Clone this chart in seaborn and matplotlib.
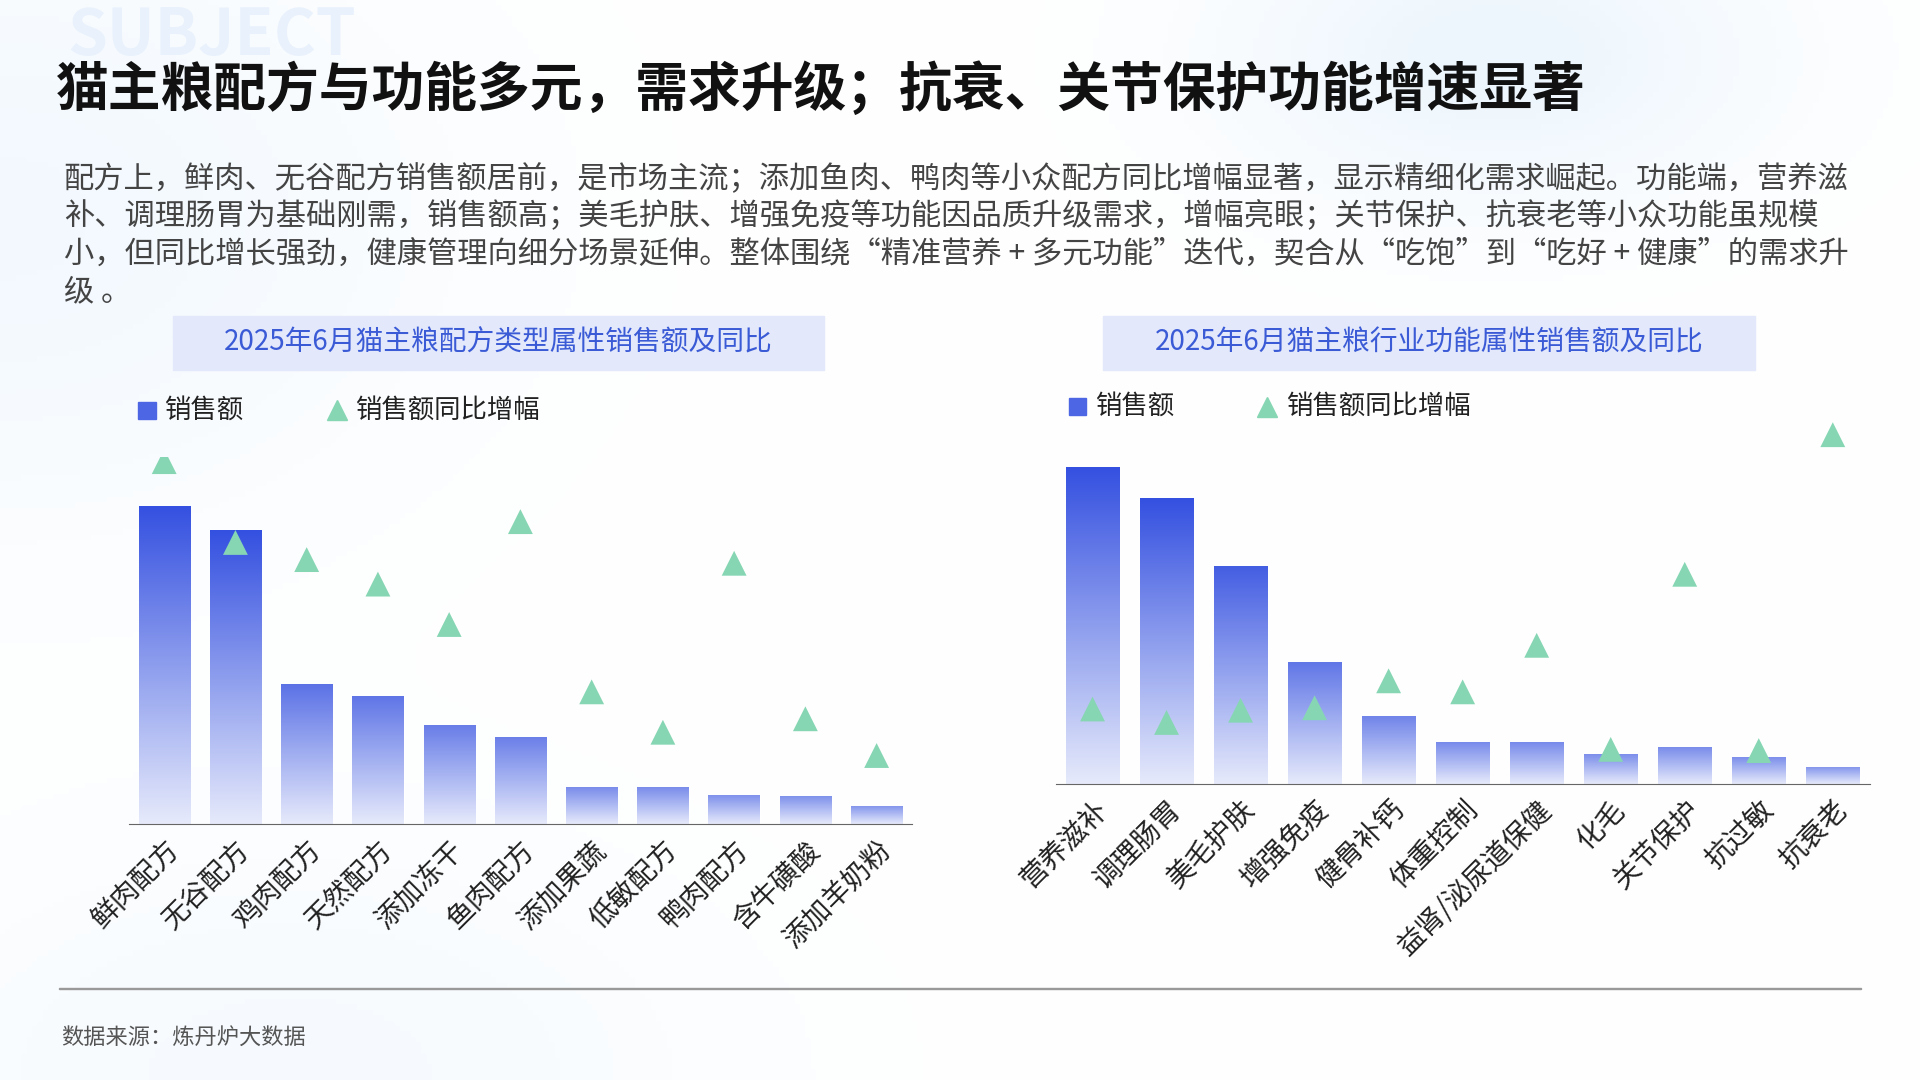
import numpy as np
import pandas as pd
import matplotlib
matplotlib.use("Agg")
import matplotlib.pyplot as plt
from matplotlib.patches import Rectangle
import seaborn as sb

sb.set_style("white")
plt.rcParams['font.family'] = ['Noto Sans CJK SC', 'DejaVu Sans']

# data (relative units)
left_cats = ["鲜肉配方", "无谷配方", "鸡肉配方", "天然配方", "添加冻干", "鱼肉配方",
             "添加果蔬", "低敏配方", "鸭肉配方", "含牛磺酸", "添加羊奶粉"]
left_sales = [260, 240, 114, 105, 81, 71, 30, 30, 24, 23, 15]
left_growth = [296, 230, 216, 196, 163, 247, 108, 75, 213, 86, 56]

right_cats = ["营养滋补", "调理肠胃", "美毛护肤", "增强免疫", "健骨补钙", "体重控制",
              "益肾/泌尿道保健", "化毛", "关节保护", "抗过敏", "抗衰老"]
right_sales = [259, 233, 178, 99, 55, 34, 34, 24, 30, 22, 14]
right_growth = [61, 50, 60, 62, 84, 75, 113, 28, 171, 27, 285]

W, H = 1568, 882
fig = plt.figure(figsize=(19.2, 10.8), dpi=100)

# background
bg = fig.add_axes([0, 0, 1, 1])
yy, xx = np.mgrid[0:1:200j, 0:1:360j]
glow = np.exp(-((xx - 0.78) ** 2 / 0.02 + (yy - 0.05) ** 2 / 0.02)) * 0.5 \
    + np.exp(-((xx - 0.0) ** 2 / 0.05 + (yy - 0.2) ** 2 / 0.08)) * 0.35 \
    + np.exp(-((xx - 0.15) ** 2 / 0.05 + (yy - 1.0) ** 2 / 0.05)) * 0.25
glow = np.clip(glow, 0, 1)
img = np.ones((200, 360, 3))
tint = np.array([0.86, 0.93, 0.99])
img = img * (1 - glow[..., None]) + tint * glow[..., None]
bg.imshow(img, aspect="auto", extent=[0, 1, 1, 0])
bg.set_xlim(0, 1); bg.set_ylim(1, 0); bg.axis("off")

def fx(px): return px / W
def fy(py): return 1 - py / H

fig.text(fx(55), fy(30), "SUBJECT", fontsize=46, fontweight="bold", color="#e8f1fc", va="center", zorder=0)
fig.text(fx(46), fy(73), "猫主粮配方与功能多元，需求升级；抗衰、关节保护功能增速显著",
         fontsize=38, fontweight="bold", color="#111111", va="center")
body = ("配方上，鲜肉、无谷配方销售额居前，是市场主流；添加鱼肉、鸭肉等小众配方同比增幅显著，显示精细化需求崛起。功能端，营养滋\n"
        "补、调理肠胃为基础刚需，销售额高；美毛护肤、增强免疫等功能因品质升级需求，增幅亮眼；关节保护、抗衰老等小众功能虽规模\n"
        "小，但同比增长强劲，健康管理向细分场景延伸。整体围绕“精准营养 + 多元功能”迭代，契合从“吃饱”到“吃好 + 健康”的需求升\n"
        "级 。")
fig.text(fx(52), fy(134), body, fontsize=21.8, color="#444444", va="top", linespacing=1.27)

fig.add_artist(Rectangle((fx(48), fy(808)), fx(1520 - 48), 0.0015, color="#999999", transform=fig.transFigure))
fig.text(fx(50), fy(847), "数据来源：炼丹炉大数据", fontsize=16, color="#555555", va="center")

bar_cmap = matplotlib.colors.LinearSegmentedColormap.from_list("g", ["#e6eafb", "#3450e0"])
tri_color = "#86d6b4"

def panel(rect, title_box, title, legend_y, cats, sales, growth):
    ax = fig.add_axes(rect)
    ax.patch.set_alpha(0)
    df = pd.DataFrame({"cat": cats, "sales": sales, "growth": growth})
    sb.barplot(data=df, x="cat", y="sales", ax=ax, color="#3a57e0", width=0.72)
    for p in ax.patches:
        x0 = p.get_x()
        w, h = p.get_width(), p.get_height()
        # gradient per bar: saturated at top, pale at the base
        grad = np.linspace(0, 1, 256)[:, None] * min(1.0, 0.55 + h / 500)
        im = ax.imshow(grad, cmap=bar_cmap, vmin=0, vmax=1, aspect="auto", origin="lower",
                       extent=[x0, x0 + w, 0, h], zorder=2)
        im.set_clip_path(p)
        p.set_facecolor("none")
    sb.scatterplot(data=df, x="cat", y="growth", ax=ax, marker="^", s=320,
                   color=tri_color, edgecolor="none", zorder=3)
    ax.set_ylim(0, 300)
    ax.set_xlim(-0.5, len(cats) - 0.5)
    ax.set_xlabel(""); ax.set_ylabel(""); ax.set_yticks([])
    for s in ["top", "right", "left"]:
        ax.spines[s].set_visible(False)
    ax.spines["bottom"].set_color("#666666")
    ax.tick_params(axis="x", length=0, pad=8)
    ax.set_xticks(range(len(cats)))
    ax.set_xticklabels(cats, rotation=45, ha="right", rotation_mode="anchor",
                       fontsize=20, color="#222222")
    bx0, bx1, by0, by1 = title_box
    fig.add_artist(Rectangle((fx(bx0), fy(by1)), fx(bx1 - bx0), (by1 - by0) / H,
                             color="#e3e9fb", transform=fig.transFigure, zorder=1))
    fig.text(fx((bx0 + bx1) / 2), fy((by0 + by1) / 2), title, fontsize=20,
             color="#3b5bd6", ha="center", va="center")
    lx = title_box[0] - 28
    fig.add_artist(Rectangle((fx(lx), fy(legend_y + 7)), 14 / W, 14 / H, color="#4d66e3",
                             transform=fig.transFigure))
    fig.text(fx(lx + 21), fy(legend_y), "销售额", fontsize=19, va="center", color="#222222")
    fig.lines.append(matplotlib.lines.Line2D([fx(lx + 162)], [fy(legend_y)], marker="^",
                                             markersize=14, color=tri_color, linestyle="none",
                                             transform=fig.transFigure))
    fig.text(fx(lx + 177), fy(legend_y), "销售额同比增幅", fontsize=19, va="center", color="#222222")

panel([fx(105), fy(673), fx(745 - 105), 300 / H], (141, 673, 258, 302),
      "2025年6月猫主粮配方类型属性销售额及同比", 335, left_cats, left_sales, left_growth)
panel([fx(862), fy(640), fx(1527 - 862), 300 / H], (901, 1433, 258, 302),
      "2025年6月猫主粮行业功能属性销售额及同比", 332, right_cats, right_sales, right_growth)

fig.savefig("out.png", dpi=100)
